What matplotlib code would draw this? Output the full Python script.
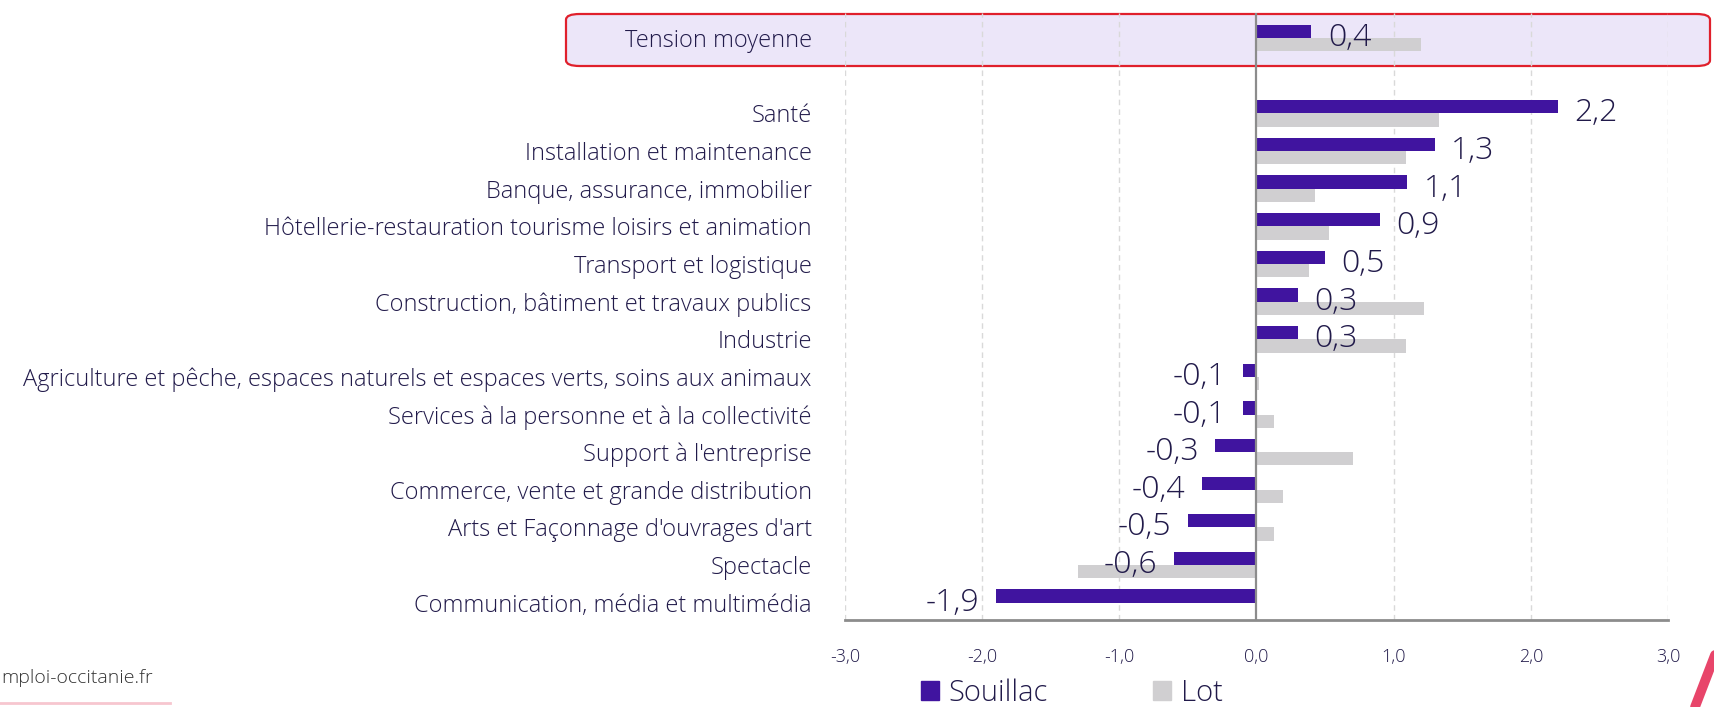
import numpy as np
import matplotlib.pyplot as plt
from matplotlib.patches import FancyBboxPatch, Patch
from matplotlib.lines import Line2D

categories = [
    "Tension moyenne",
    "Santé",
    "Installation et maintenance",
    "Banque, assurance, immobilier",
    "Hôtellerie-restauration tourisme loisirs et animation",
    "Transport et logistique",
    "Construction, bâtiment et travaux publics",
    "Industrie",
    "Agriculture et pêche, espaces naturels et espaces verts, soins aux animaux",
    "Services à la personne et à la collectivité",
    "Support à l'entreprise",
    "Commerce, vente et grande distribution",
    "Arts et Façonnage d'ouvrages d'art",
    "Spectacle",
    "Communication, média et multimédia",
]
souillac = [0.4, 2.2, 1.3, 1.1, 0.9, 0.5, 0.3, 0.3, -0.1, -0.1, -0.3, -0.4, -0.5, -0.6, -1.9]
lot = [1.2, 1.33, 1.09, 0.43, 0.53, 0.38, 1.22, 1.09, 0.02, 0.13, 0.70, 0.19, 0.13, -1.30, 0.0]
xticks = [-3, -2, -1, 0, 1, 2, 3]

purple = "#40149f"
grey = "#d0cfd1"
txt = "#211a4a"

plt.rcParams['font.family'] = ['Open Sans', 'DejaVu Sans']

W, H = 1715, 707
fig = plt.figure(figsize=(W / 100, H / 100), dpi=100)
ax = fig.add_axes([845 / W, 1 - 620 / H, (1668 - 845) / W, (620 - 13) / H])
ax.patch.set_alpha(0)

pos = np.array([0] + list(range(2, 16)))
h = 0.353
ax.barh(pos - h / 2, souillac, height=h, color=purple, zorder=3)
ax.barh(pos + h / 2, lot, height=h, color=grey, zorder=2)

for p, v in zip(pos, souillac):
    s = f"{v:.1f}".replace('.', ',')
    if v >= 0:
        ax.text(v + 0.12, p, s, ha='left', va='center', fontsize=23, color=txt,
                fontweight='light', zorder=5)
    else:
        ax.text(v - 0.12, p, s, ha='right', va='center', fontsize=23, color=txt,
                fontweight='light', zorder=5)

ax.set_xlim(-3, 3)
ax.set_ylim(15.46, -0.67)
ax.set_xticks(xticks)
ax.set_xticklabels([f"{t:.1f}".replace('.', ',') for t in xticks], fontsize=13,
                   color=txt, fontweight='light')
ax.set_yticks(pos)
ax.set_yticklabels(categories, fontsize=17, color=txt, fontweight='light')
ax.tick_params(axis='y', length=0, pad=24)
ax.tick_params(axis='x', length=0, pad=20)

for t in xticks:
    if t != 0:
        ax.axvline(t, color="#d9d9d9", lw=1, ls=(0, (4, 3)), zorder=1)
ax.axvline(0, color="#8c8c8c", lw=1.6, zorder=4)

for side in ['top', 'right', 'left']:
    ax.spines[side].set_visible(False)
ax.spines['bottom'].set_color("#8c8c8c")
ax.spines['bottom'].set_linewidth(2)

# highlighted "Tension moyenne" row
box = FancyBboxPatch((566 / W, 1 - 66 / H), (1710 - 566) / W, 52 / H,
                     boxstyle="round,pad=0,rounding_size=0.008",
                     transform=fig.transFigure, facecolor="#ece6f9",
                     edgecolor="#e0202c", lw=1.6, clip_on=False, zorder=0.2)
ax.add_patch(box)

handles = [Patch(color=purple, label="Souillac"), Patch(color=grey, label="Lot")]
fig.legend(handles=handles, loc='center', bbox_to_anchor=(1072 / W, 1 - 693 / H),
           ncol=2, frameon=False, labelcolor=txt,
           prop={'size': 21, 'weight': 'light'},
           handlelength=0.6, handleheight=0.6, handletextpad=0.35, columnspacing=3.6)

# source line, left edge as shown in the reference
fig.text(1 / W, 1 - 678 / H, "mploi-occitanie.fr", ha='left', va='center',
         fontsize=14, color="#333333", fontweight='light')
fig.add_artist(Line2D([0, 170 / W], [1 - 703 / H, 1 - 703 / H], color="#f7c6cf", lw=2,
                      transform=fig.transFigure))
fig.add_artist(Line2D([1695 / W, 1715 / W], [0, 1 - 655 / H], color="#e8456a", lw=7,
                      transform=fig.transFigure, solid_capstyle='round'))

fig.savefig("out.png", dpi=100)
